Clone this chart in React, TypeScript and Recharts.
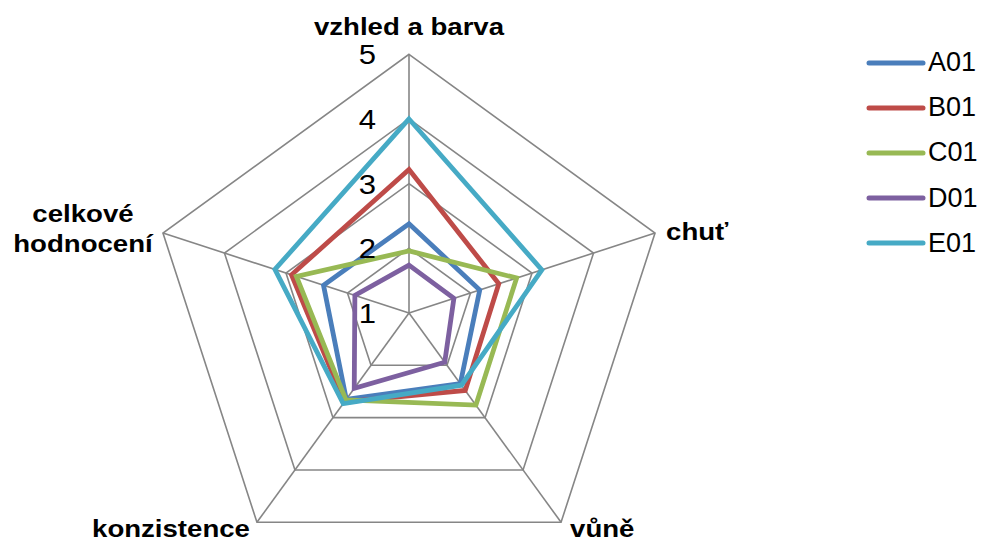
import React from 'react';
import { RadarChart, Radar, PolarGrid, PolarAngleAxis, PolarRadiusAxis, Legend } from 'recharts';

const categories = ['vzhled a barva', 'chuť', 'vůně', 'konzistence', 'celkové hodnocení'];
const seriesNames = ['A01', 'B01', 'C01', 'D01', 'E01'];
const A01 = [2.38, 2.15, 2.35, 2.65, 2.39];
const B01 = [3.22, 2.46, 2.48, 2.7, 2.91];
const C01 = [1.96, 2.75, 2.76, 2.66, 2.83];
const D01 = [1.74, 1.73, 1.94, 2.44, 1.88];
const E01 = [4.0, 3.16, 2.38, 2.73, 3.18];
const radiusTicks = [1, 2, 3, 4, 5];
const colors = ['#4A7EBB', '#BE4B48', '#98B954', '#7D60A0', '#46AAC5'];

const seriesValues = [A01, B01, C01, D01, E01];
const data = categories.map((c, i) => {
  const row: any = { name: c };
  seriesNames.forEach((s, j) => { row[s] = seriesValues[j][i]; });
  return row;
});

const W = 983;
const H = 542;
const CX = 409;
const CY = 313;
const R = 258.7;
const FONT = '"Liberation Sans", Arial, Helvetica, sans-serif';

const AngleTick = (props: any) => {
  const { index, payload } = props;
  const ang = (90 - 72 * index) * Math.PI / 180;
  const vx = CX + R * Math.cos(ang);
  const vy = CY - R * Math.sin(ang);
  const label: string = payload.value;
  const common = { fontFamily: FONT, fontWeight: 700, fontSize: 23, fill: '#000' };
  if (index === 0) {
    return (
      <g transform={`translate(${vx},${vy - 19}) scale(1.2,1)`}>
        <text x={0} y={0} textAnchor="middle" {...common}>{label}</text>
      </g>
    );
  }
  if (index === 1) {
    return (
      <g transform={`translate(${vx + 11},${vy + 7}) scale(1.2,1)`}>
        <text x={0} y={0} textAnchor="start" {...common}>{label}</text>
      </g>
    );
  }
  if (index === 2) {
    return (
      <g transform={`translate(${vx + 9},${vy + 15}) scale(1.2,1)`}>
        <text x={0} y={0} textAnchor="start" {...common}>{label}</text>
      </g>
    );
  }
  if (index === 3) {
    return (
      <g transform={`translate(${vx - 7},${vy + 15}) scale(1.2,1)`}>
        <text x={0} y={0} textAnchor="end" {...common}>{label}</text>
      </g>
    );
  }
  const parts = label.split(' ');
  return (
    <g transform={`translate(${vx - 80},${vy - 11}) scale(1.2,1)`}>
      <text x={0} y={0} textAnchor="middle" {...common}>
        <tspan x={0} dy={0}>{parts[0]}</tspan>
        <tspan x={0} dy={30}>{parts[1]}</tspan>
      </text>
    </g>
  );
};

const RadiusTick = (props: any) => {
  const { x, y, payload } = props;
  return (
    <g transform={`translate(${x - 33},${y + 10}) scale(1.15,1)`}>
      <text x={0} y={0} textAnchor="end" fontFamily={FONT} fontSize={27} fill="#000">
        {payload.value}
      </text>
    </g>
  );
};

const LegendContent = () => (
  <div style={{ fontFamily: FONT, fontSize: 27, color: '#000' }}>
    {seriesNames.map((s, i) => (
      <div key={s} style={{ display: 'flex', alignItems: 'center', height: 45.2 }}>
        <svg width={60} height={10} style={{ display: 'block' }}>
          <line x1={3} y1={5} x2={57} y2={5} stroke={colors[i]} strokeWidth={5} strokeLinecap="round" />
        </svg>
        <span style={{ marginLeft: 2, lineHeight: '27px' }}>{s}</span>
      </div>
    ))}
  </div>
);

export default function App() {
  return (
    <div style={{ position: 'absolute', left: 0, top: 0, width: W, height: H, background: '#fff' }}>
      <RadarChart width={W} height={H} data={data} cx={CX} cy={CY} outerRadius={R} margin={{ top: 0, right: 0, bottom: 0, left: 0 }}>
        <PolarGrid gridType="polygon" stroke="#868686" strokeWidth={1.6} />
        <PolarAngleAxis dataKey="name" tick={AngleTick} tickLine={false} axisLine={false} />
        <PolarRadiusAxis angle={90} domain={[1, 5]} ticks={radiusTicks} tickCount={5} type="number" axisLine={false} tickLine={false} tick={RadiusTick} />
        {seriesNames.map((s, i) => (
          <Radar key={s} name={s} dataKey={s} stroke={colors[i]} strokeWidth={4.8} fill="none" fillOpacity={0} isAnimationActive={false} dot={false} />
        ))}
        <Legend content={LegendContent} layout="vertical" align="right" verticalAlign="top" wrapperStyle={{ position: 'absolute', left: 866, top: 40, width: 120 }} />
      </RadarChart>
    </div>
  );
}
